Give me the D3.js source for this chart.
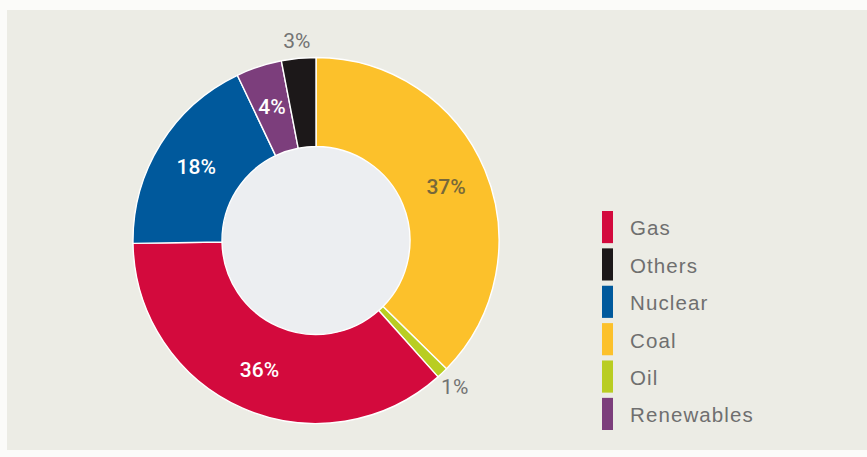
<!DOCTYPE html>
<html>
<head>
<meta charset="utf-8">
<script src="https://cdn.jsdelivr.net/npm/d3@7"></script>
<style>
  html, body { margin: 0; padding: 0; background: #fbfbf9; }
  svg { display: block; }
</style>
</head>
<body>
<svg id="chart" width="867" height="457"></svg>
<script>
// Electricity generation mix, shares in percent (clockwise from 12 o'clock)
const sources = ["Coal", "Oil", "Gas", "Nuclear", "Renewables", "Others"];
const shares = [37, 1, 36, 18, 4, 3];
const sliceColors = ["#fcc12b", "#b9cd22", "#d30a3d", "#00599c", "#7c3e7c", "#1c1819"];
const labelColors = ["#77683a", "#737373", "#ffffff", "#ffffff", "#ffffff", "#737373"];
const labelOutside = [false, true, false, false, false, true];

// Legend order
const legendOrder = ["Gas", "Others", "Nuclear", "Coal", "Oil", "Renewables"];

const svg = d3.select("#chart");

// Background panel
svg.append("rect")
  .attr("x", 7).attr("y", 10)
  .attr("width", 860).attr("height", 440)
  .attr("fill", "#ecece5");

const cx = 316, cy = 240.5;
const outerR = 183, innerR = 94;

const data = sources.map((s, i) => ({
  source: s, value: shares[i], color: sliceColors[i],
  labelColor: labelColors[i], outside: labelOutside[i]
}));

const pie = d3.pie().sort(null).value(d => d.value);
const arcs = pie(data);

const arc = d3.arc().innerRadius(innerR).outerRadius(outerR);
const labelArc = d3.arc().innerRadius(141).outerRadius(141);
const outerLabelArc = d3.arc().innerRadius(201).outerRadius(201);

const g = svg.append("g").attr("transform", `translate(${cx},${cy})`);

// Hole fill
g.append("circle").attr("r", innerR).attr("fill", "#eceef1");

g.selectAll("path.slice")
  .data(arcs)
  .join("path")
  .attr("class", "slice")
  .attr("d", arc)
  .attr("fill", d => d.data.color)
  .attr("stroke", "#ffffff")
  .attr("stroke-width", 1.4)
  .attr("stroke-linejoin", "round");

g.selectAll("text.pct")
  .data(arcs)
  .join("text")
  .attr("class", "pct")
  .attr("transform", d => {
    const p = (d.data.outside ? outerLabelArc : labelArc).centroid(d);
    return `translate(${p[0]},${p[1]})`;
  })
  .attr("text-anchor", "middle")
  .attr("dy", "0.36em")
  .attr("font-family", "Roboto, 'Liberation Sans', Arial, sans-serif")
  .attr("font-size", 21)
  .attr("font-weight", d => d.data.outside ? 400 : 500)
  .attr("fill", d => d.data.labelColor)
  .text(d => d.data.value + "%");

// Legend
const colorOf = d3.scaleOrdinal().domain(sources).range(sliceColors);
const legendY = d3.scaleBand().domain(legendOrder).range([211, 430]).paddingInner(0.14);

const legend = svg.append("g");
const items = legend.selectAll("g.item")
  .data(legendOrder)
  .join("g")
  .attr("class", "item")
  .attr("transform", d => `translate(602,${legendY(d)})`);

items.append("rect")
  .attr("width", 11)
  .attr("height", legendY.bandwidth())
  .attr("fill", d => colorOf(d));

items.append("text")
  .attr("x", 28)
  .attr("y", legendY.bandwidth() / 2 + 1)
  .attr("dy", "0.36em")
  .attr("font-family", "'Liberation Sans', Arial, sans-serif")
  .attr("font-size", 20.5)
  .attr("letter-spacing", 1.1)
  .attr("fill", "#6f6f6f")
  .text(d => d);
</script>
</body>
</html>
